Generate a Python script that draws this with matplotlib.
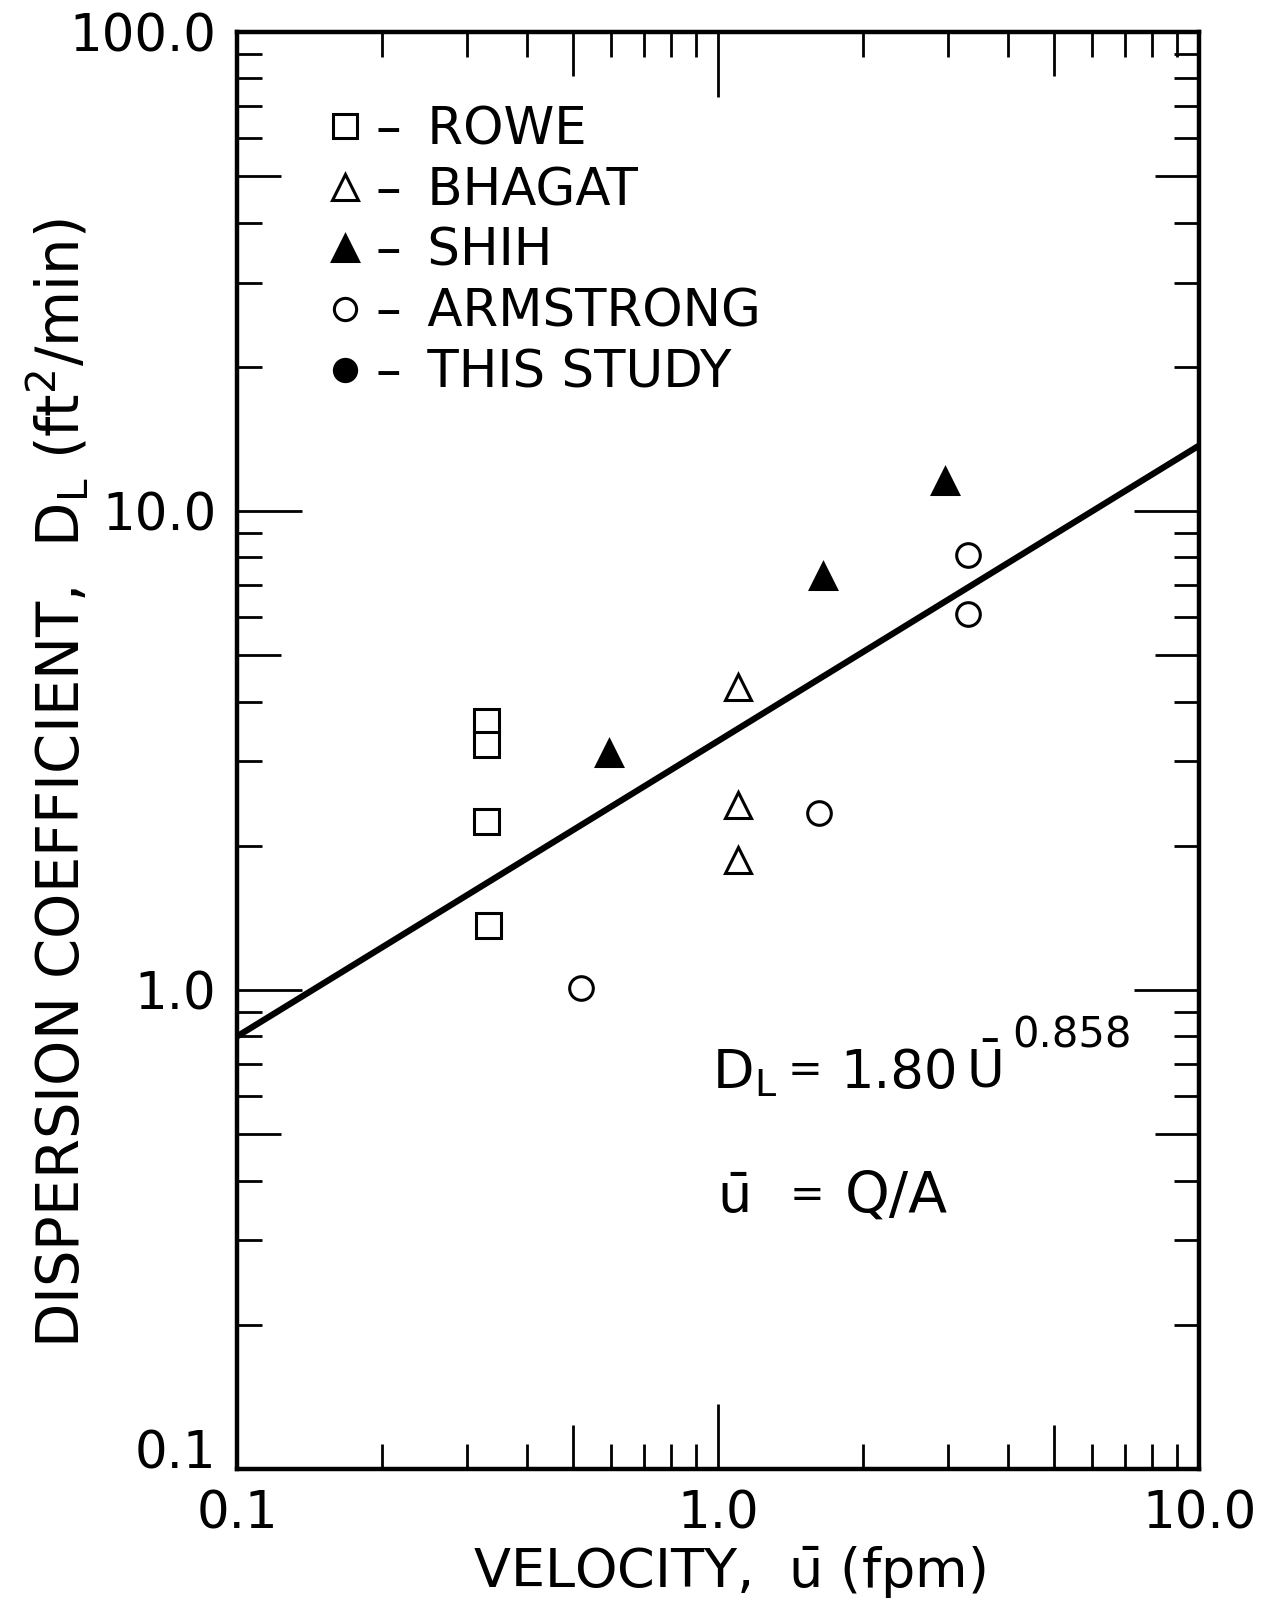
import matplotlib
matplotlib.use('Agg')
import matplotlib.pyplot as plt
from matplotlib.lines import Line2D
import numpy as np

# ---- data ----
rowe_u = [0.33, 0.33, 0.33, 0.332]
rowe_D = [3.65, 3.26, 2.25, 1.37]
bhagat_u = [1.10, 1.10, 1.10]
bhagat_D = [4.29, 2.43, 1.87]
shih_u = [0.594, 1.65, 2.97]
shih_D = [3.12, 7.32, 11.55]
armstrong_u = [0.519, 1.62, 3.31, 3.31]
armstrong_D = [1.01, 2.34, 6.09, 8.09]
fit_u = [0.1, 10.0]
fit_D = [0.80, 13.7]

xticks = [0.1, 1.0, 10.0]
xticklabels = ["0.1", "1.0", "10.0"]
yticks = [0.1, 1.0, 10.0, 100.0]
yticklabels = ["0.1", "1.0", "10.0", "100.0"]
legend_labels = ["–\u2002ROWE", "–\u2002BHAGAT", "–\u2002SHIH", "–\u2002ARMSTRONG", "–\u2002THIS STUDY"]

plt.rcParams['font.family'] = ['DejaVu Sans']
plt.rcParams['mathtext.fontset'] = 'dejavusans'

fig = plt.figure(figsize=(12.8, 16.04), dpi=100)
ax = fig.add_axes([0.1852, 0.0842, 0.7516, 0.8958])
ax.set_xscale('log')
ax.set_yscale('log')
ax.set_xlim(0.1, 10.0)
ax.set_ylim(0.1, 100.0)

ms_kw = dict(linestyle='none', markeredgecolor='black', markeredgewidth=2.2, zorder=3)
ax.plot(fit_u, fit_D, color='black', lw=4.5, solid_capstyle='butt', zorder=2)
ax.plot(rowe_u, rowe_D, marker='s', markersize=18, markerfacecolor='white', **ms_kw)
ax.plot(bhagat_u, bhagat_D, marker='^', markersize=19, markerfacecolor='white', **ms_kw)
ax.plot(shih_u, shih_D, marker='^', markersize=19, markerfacecolor='black', **ms_kw)
ax.plot(armstrong_u, armstrong_D, marker='o', markersize=17, markerfacecolor='white', **ms_kw)

# ticks
ax.set_xticks(xticks, labels=xticklabels)
ax.set_yticks(yticks, labels=yticklabels)
xminor = [m * d for d in [0.1, 1.0] for m in range(2, 10)]
yminor = [m * d for d in [0.1, 1.0, 10.0] for m in range(2, 10)]
ax.set_xticks(xminor, minor=True)
ax.set_yticks(yminor, minor=True)
ax.xaxis.set_minor_formatter(plt.NullFormatter())
ax.yaxis.set_minor_formatter(plt.NullFormatter())
ax.tick_params(which='both', direction='in', top=True, right=True, width=2.0, color='black')
ax.tick_params(which='major', length=47, labelsize=37)
ax.tick_params(which='minor', length=18)
ax.tick_params(axis='x', which='major', pad=15)
ax.tick_params(axis='y', which='major', pad=15)
for s in ax.spines.values():
    s.set_linewidth(3.2)

# legend
handles = [
    Line2D([], [], marker='s', markersize=17, markerfacecolor='white', **ms_kw),
    Line2D([], [], marker='^', markersize=19, markerfacecolor='white', **ms_kw),
    Line2D([], [], marker='^', markersize=19, markerfacecolor='black', **ms_kw),
    Line2D([], [], marker='o', markersize=16, markerfacecolor='white', **ms_kw),
    Line2D([], [], marker='o', markersize=16, markerfacecolor='black', **ms_kw),
]
ax.legend(handles, legend_labels, loc='upper left', bbox_to_anchor=(0.099, 0.949),
          frameon=False, fontsize=37, handlelength=0.5, handletextpad=0.35,
          labelspacing=0.21, borderpad=0, borderaxespad=0)

# axis labels
fig.text(0.5695, 0.0197, r"VELOCITY,  $\bar{\mathrm{u}}$ (fpm)", fontsize=39,
         ha='center', va='center')
fig.text(0.045, 0.5119, r"DISPERSION COEFFICIENT,  $\mathrm{D_L}$ (ft$^2$/min)", fontsize=41.5,
         rotation=90, ha='center', va='center')

# annotations (pieces placed individually)
def ftxt(x, y, s, size=39):
    fig.text(x / 1280, 1 - y / 1604, s, fontsize=size, ha='left', va='baseline')

ftxt(712, 1088, r"$\mathrm{D_L}$")
ftxt(788, 1082, "=", size=30)
ftxt(840, 1088, "1.80", size=38)
ftxt(966, 1088, r"$\bar{\mathrm{U}}$", size=37)
ftxt(1012, 1048, "0.858", size=30)
ftxt(717, 1213, r"$\bar{\mathrm{u}}$")
ftxt(790, 1207, "=", size=30)
ftxt(845, 1213, "Q/A", size=41)

fig.canvas.draw()
for axis in (ax.xaxis, ax.yaxis):
    locs = axis.get_minorticklocs()
    ticks = axis.get_minor_ticks(len(locs))
    for t, loc in zip(ticks, locs):
        mant = loc / 10 ** np.floor(np.log10(loc) + 1e-9)
        L = 32 if abs(mant - 5) < 1e-6 else 18
        t.tick1line.set_markersize(L)
        t.tick2line.set_markersize(L)
ax.yaxis.get_major_ticks()[0].label1.set_va('baseline')

fig.savefig('out.png', dpi=100)
